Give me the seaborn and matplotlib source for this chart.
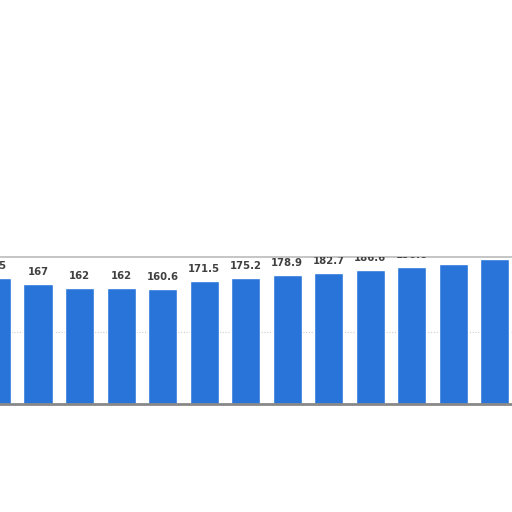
import matplotlib
matplotlib.use("Agg")
import matplotlib.pyplot as plt
import seaborn as sns
import pandas as pd

categories = ["2008", "2009", "2010", "2011", "2012", "2013", "2014",
              "2015", "2016", "2017", "2018", "2019", "2020"]
values = [175, 167, 162, 162, 160.6, 171.5, 175.2, 178.9, 182.7, 186.6, 190.6, 194.5, 202]
labels = ["175", "167", "162", "162", "160.6", "171.5", "175.2", "178.9",
          "182.7", "186.6", "190.6", "194.5", ""]

df = pd.DataFrame({"cat": categories, "val": values})

sns.set_theme(style="white")
plt.rcParams['font.family'] = ['DejaVu Sans']

fig = plt.figure(figsize=(5.12, 5.12), dpi=100)
ax = fig.add_axes([0.0, 1 - 404 / 512, 1.0, (404 - 257) / 512])

sns.barplot(data=df, x="cat", y="val", color="#2874d9", saturation=1,
            width=0.7, ax=ax)

ax.set_xlim(0.084, 12.42)
ax.set_ylim(0, 204.5)
ax.axhline(100, color="#cccccc", lw=0.8, ls=(0, (1, 1.5)), zorder=0)

texts = ax.bar_label(ax.containers[0], labels=labels, padding=5,
                     fontsize=7.3, fontweight="bold", color="#404040")
for t in texts:
    t.set_annotation_clip(False)
    t.set_clip_on(True)
    t.set_clip_box(ax.bbox)

ax.set_xlabel("")
ax.set_ylabel("")
ax.set_xticks([])
ax.set_yticks([])
for s in ["left", "right"]:
    ax.spines[s].set_visible(False)
ax.spines["bottom"].set_color("#888888")
ax.spines["bottom"].set_linewidth(2)
ax.spines["top"].set_color("#bbbbbb")
ax.spines["top"].set_linewidth(1.2)

fig.savefig("out.png", dpi=100, facecolor="white")
